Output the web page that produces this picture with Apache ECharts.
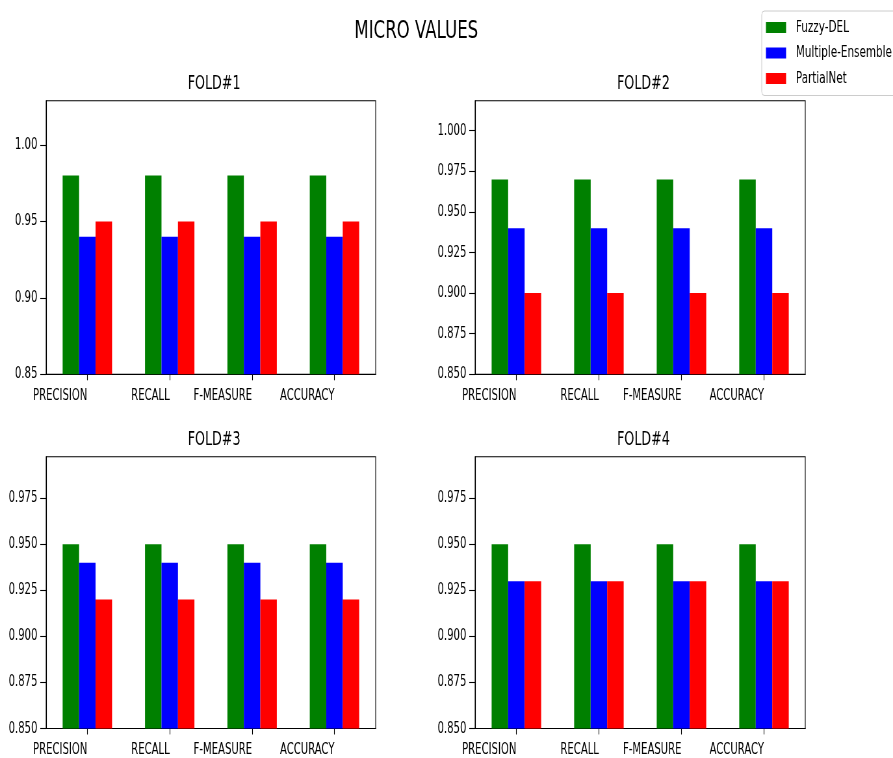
<!DOCTYPE html>
<html><head><meta charset="utf-8">
<script src="https://cdn.jsdelivr.net/npm/echarts@6/dist/echarts.min.js"></script>
<style>
html,body{margin:0;padding:0;overflow:hidden;background:#fff;width:893px;height:758px}
#wrap{width:893px;height:758px;overflow:hidden;position:relative}
#c{width:1374px;height:758px;transform:scaleX(0.64993);transform-origin:0 0;position:absolute;left:0;top:0}
</style></head><body><div id="wrap"><div id="c"></div></div>
<script>
// ---- data ----
const categories = ['PRECISION', 'RECALL', 'F-MEASURE', 'ACCURACY'];
const seriesNames = ['Fuzzy-DEL', 'Multiple-Ensemble', 'PartialNet'];
const foldTitles = ['FOLD#1', 'FOLD#2', 'FOLD#3', 'FOLD#4'];
const mainTitle = 'MICRO VALUES';

const fold1FuzzyDEL = [0.98, 0.98, 0.98, 0.98];
const fold1MultipleEnsemble = [0.94, 0.94, 0.94, 0.94];
const fold1PartialNet = [0.95, 0.95, 0.95, 0.95];

const fold2FuzzyDEL = [0.97, 0.97, 0.97, 0.97];
const fold2MultipleEnsemble = [0.94, 0.94, 0.94, 0.94];
const fold2PartialNet = [0.90, 0.90, 0.90, 0.90];

const fold3FuzzyDEL = [0.95, 0.95, 0.95, 0.95];
const fold3MultipleEnsemble = [0.94, 0.94, 0.94, 0.94];
const fold3PartialNet = [0.92, 0.92, 0.92, 0.92];

const fold4FuzzyDEL = [0.95, 0.95, 0.95, 0.95];
const fold4MultipleEnsemble = [0.93, 0.93, 0.93, 0.93];
const fold4PartialNet = [0.93, 0.93, 0.93, 0.93];

const yMin = 0.85;
const yMaxes = [1.029, 1.0185, 0.9975, 0.9975];
const yTicksFold1 = [0.85, 0.90, 0.95, 1.00];
const yTicksFold2 = [0.850, 0.875, 0.900, 0.925, 0.950, 0.975, 1.000];
const yTicksFold3 = [0.850, 0.875, 0.900, 0.925, 0.950, 0.975];
const yTicksFold4 = [0.850, 0.875, 0.900, 0.925, 0.950, 0.975];
const yTickDecimals = [2, 3, 3, 3];

// ---- build ----
const folds = [
  [fold1FuzzyDEL, fold1MultipleEnsemble, fold1PartialNet],
  [fold2FuzzyDEL, fold2MultipleEnsemble, fold2PartialNet],
  [fold3FuzzyDEL, fold3MultipleEnsemble, fold3PartialNet],
  [fold4FuzzyDEL, fold4MultipleEnsemble, fold4PartialNet]
];
const yTicks = [yTicksFold1, yTicksFold2, yTicksFold3, yTicksFold4];
const colors = ['#008000', '#0000ff', '#ff0000'];
const FONT = 'DejaVu Sans';
const gridPos = [
  {left: 71, top: 100.7, width: 507, height: 273.6},
  {left: 731, top: 100.7, width: 508, height: 273.6},
  {left: 71, top: 456.8, width: 507, height: 274.2},
  {left: 731, top: 456.8, width: 508, height: 274.2}
];

const grids = [], xAxes = [], yAxes = [], series = [], titles = [];
titles.push({
  text: mainTitle, left: 635.5, top: 13, textAlign: 'center',
  textStyle: {fontFamily: FONT, fontSize: 25.5, fontWeight: 'normal', color: '#000'}
});
folds.forEach((fold, i) => {
  const g = gridPos[i];
  grids.push(Object.assign({show: true, borderColor: '#000', borderWidth: 1.1, backgroundColor: '#fff', containLabel: false}, g));
  titles.push({
    text: foldTitles[i], left: g.left + g.width / 2, top: g.top - 31.5, textAlign: 'center',
    textStyle: {fontFamily: FONT, fontSize: 19.5, fontWeight: 'normal', color: '#000'}
  });
  xAxes.push({
    type: 'category', gridIndex: i, data: categories, boundaryGap: true,
    axisLine: {show: true, lineStyle: {color: '#000', width: 1.1}},
    axisTick: {show: true, alignWithLabel: true, length: 6, lineStyle: {color: '#000', width: 1.1}},
    axisLabel: {interval: 0, align: 'right', margin: 13.5, color: '#000', fontFamily: FONT, fontSize: 15.5},
    splitLine: {show: false}
  });
  const dec = yTickDecimals[i];
  yAxes.push({
    type: 'value', gridIndex: i, min: yMin, max: yMaxes[i],
    axisLine: {show: true, lineStyle: {color: '#000', width: 1.1}},
    axisTick: {show: true, length: 9, customValues: yTicks[i], lineStyle: {color: '#000', width: 1.1}},
    axisLabel: {customValues: yTicks[i], margin: 13.5, color: '#000', fontFamily: FONT, fontSize: 15.5,
      formatter: v => Number(v).toFixed(dec)},
    splitLine: {show: false}
  });
  fold.forEach((vals, k) => {
    series.push({
      name: seriesNames[k], type: 'bar', xAxisIndex: i, yAxisIndex: i,
      data: vals, barWidth: '20%', barGap: '0%', clip: true,
      itemStyle: {color: colors[k]}, animation: false
    });
  });
});

const chart = echarts.init(document.getElementById('c'), null, {renderer: 'canvas'});
chart.setOption({
  backgroundColor: '#fff',
  animation: false,
  title: titles,
  grid: grids,
  xAxis: xAxes,
  yAxis: yAxes,
  legend: {
    data: seriesNames, orient: 'vertical', left: 1172, top: 11,
    padding: [8.5, 40, 9, 6.5], itemWidth: 31, itemHeight: 11, itemGap: 9.5,
    icon: 'rect', backgroundColor: '#fff', borderColor: '#cccccc', borderWidth: 1, borderRadius: 4,
    textStyle: {fontFamily: FONT, fontSize: 16, color: '#000', lineHeight: 16, padding: [0, 0, 0, 10]}
  },
  series: series
});
</script></body></html>
